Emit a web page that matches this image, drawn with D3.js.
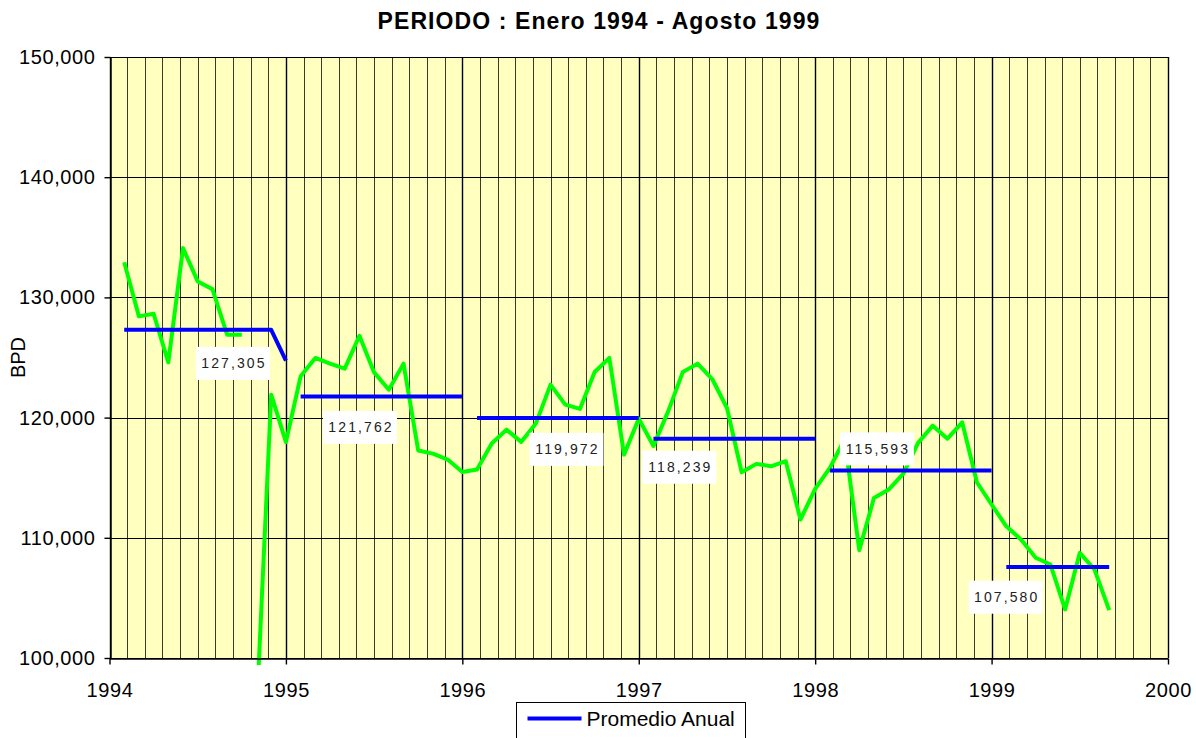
<!DOCTYPE html>
<html>
<head>
<meta charset="utf-8">
<script src="https://cdn.jsdelivr.net/npm/d3@7"></script>
<style>
  body { margin: 0; background: #fff; }
  text { font-family: "Liberation Sans", Arial, sans-serif; }
</style>
</head>
<body>
<svg id="chart"></svg>
<script>
// ---- datos ----
const years = [1994, 1995, 1996, 1997, 1998, 1999, 2000];
const yTicks = [100000, 110000, 120000, 130000, 140000, 150000];

// produccion mensual (BPD), enero 1994 - agosto 1999
const bpd1994 = [132930, 128420, 128640, 124590, 134100, 131330, 130690, 126900, 126900, 95400, 121910, 117960];
const bpd1995 = [123430, 124960, 124490, 124070, 126810, 123760, 122320, 124490, 117260, 117000, 116510, 115480];
const bpd1996 = [115680, 117840, 119000, 117980, 119500, 122740, 121080, 120720, 123800, 124960, 116920, 119910];
const bpd1997 = [117640, 120520, 123800, 124490, 123210, 120800, 115450, 116150, 115950, 116370, 111520, 114070];
const bpd1998 = [115820, 118200, 108970, 113320, 114010, 115340, 117900, 119330, 118250, 119610, 114620, 112770];
const bpd1999 = [110960, 109860, 108340, 107780, 104040, 108750, 107360, 103980];
const lineBreakAt = 9; // the monthly line has a gap between Sep and Oct 1994

const annualAvg = [127305, 121762, 119972, 118239, 115593, 107580];
const avgMonths = [12, 12, 12, 12, 12, 8];
const avgDec1994 = 124740; // last point of the 1994 average drops
// label centres, in data units [year, BPD]
const avgLabelAt = [[1994.70, 124510], [1995.42, 119190], [1996.59, 117360],
                    [1997.23, 115870], [1998.35, 117400], [1999.08, 105060]];

// ---- layout ----
const width = 1196, height = 738;
const svg = d3.select("#chart").attr("width", width).attr("height", height);

const x = d3.scaleLinear().domain([1994, 2000]).range([109.5, 1168]);
const y = d3.scaleLinear().domain([100000, 150000]).range([658, 57]);
const crisp = v => Math.round(v) + 0.5;

const monthly = [].concat(bpd1994, bpd1995, bpd1996, bpd1997, bpd1998, bpd1999)
    .map((v, i) => ({ t: 1994 + (i + 1) / 12, v: v }));

// plot background
svg.append("rect")
    .attr("x", x(1994)).attr("y", y(150000))
    .attr("width", x(2000) - x(1994)).attr("height", y(100000) - y(150000))
    .attr("fill", "#FFFFC0");

// minor vertical grid (every 0.1 year)
const minor = d3.range(0, 61).filter(k => k % 10 !== 0).map(k => 1994 + k / 10);
svg.append("g").selectAll("line").data(minor).enter().append("line")
    .attr("x1", d => crisp(x(d))).attr("x2", d => crisp(x(d)))
    .attr("y1", y(150000)).attr("y2", y(100000))
    .attr("stroke", "#3a3a2a").attr("stroke-width", 1);

// horizontal grid
svg.append("g").selectAll("line").data(yTicks).enter().append("line")
    .attr("x1", x(1994)).attr("x2", x(2000))
    .attr("y1", d => crisp(y(d))).attr("y2", d => crisp(y(d)))
    .attr("stroke", "#000").attr("stroke-width", 1);

// year grid
svg.append("g").selectAll("line").data(years).enter().append("line")
    .attr("x1", d => crisp(x(d))).attr("x2", d => crisp(x(d)))
    .attr("y1", y(150000)).attr("y2", y(100000))
    .attr("stroke", "#000").attr("stroke-width", 1.4);

// series
svg.append("defs").append("clipPath").attr("id", "clip")
    .append("rect")
    .attr("x", x(1994)).attr("y", y(150000) - 2)
    .attr("width", x(2000) - x(1994)).attr("height", y(100000) - y(150000) + 9);

const line = d3.line().x(d => x(d.t)).y(d => y(d.v));
const series = svg.append("g").attr("clip-path", "url(#clip)");

[monthly.slice(0, lineBreakAt), monthly.slice(lineBreakAt)].forEach(seg => {
    series.append("path")
        .datum(seg)
        .attr("d", line)
        .attr("fill", "none")
        .attr("stroke", "#00FF00")
        .attr("stroke-width", 4)
        .attr("stroke-linejoin", "round");
});

annualAvg.forEach((avg, i) => {
    const pts = d3.range(avgMonths[i]).map(m => ({
        t: years[i] + (m + 1) / 12,
        v: (i === 0 && m === 11) ? avgDec1994 : avg
    }));
    series.append("path")
        .datum(pts)
        .attr("d", line)
        .attr("fill", "none")
        .attr("stroke", "#0000FF")
        .attr("stroke-width", 4)
        .attr("stroke-linejoin", "round");
});

// data labels
const labels = svg.append("g").selectAll("g").data(annualAvg).enter().append("g")
    .attr("transform", (d, i) => `translate(${x(avgLabelAt[i][0])},${y(avgLabelAt[i][1])})`);
labels.append("rect")
    .attr("x", -37).attr("y", -16.5).attr("width", 74).attr("height", 33)
    .attr("fill", "#fff");
labels.append("text")
    .attr("text-anchor", "middle")
    .attr("dx", "1px")
    .attr("dy", "0.36em")
    .style("font-size", "14px")
    .style("letter-spacing", "2.1px")
    .style("fill", "#222")
    .text(d => d3.format(",")(d));

// axes
const yAxis = svg.append("g")
    .attr("transform", `translate(${crisp(x(1994))},0)`)
    .call(d3.axisLeft(y).tickValues(yTicks).tickFormat(d3.format(","))
        .tickSize(6).tickSizeOuter(0).tickPadding(9));
const xAxis = svg.append("g")
    .attr("transform", `translate(0,${crisp(y(100000))})`)
    .call(d3.axisBottom(x).tickValues(years).tickFormat(d3.format("d"))
        .tickSize(6).tickSizeOuter(0).tickPadding(18));

[yAxis, xAxis].forEach(a => {
    a.select(".domain").attr("stroke", "#000").attr("stroke-width", 1.4);
    a.selectAll(".tick line").attr("stroke", "#000").attr("stroke-width", 1.4);
    a.selectAll(".tick text")
        .style("font-family", "'Liberation Sans', Arial, sans-serif")
        .style("font-size", "20px")
        .style("letter-spacing", "0.6px")
        .style("fill", "#000");
});

// axis title
svg.append("text")
    .attr("transform", `translate(25,${(y(150000) + y(100000)) / 2}) rotate(-90)`)
    .attr("text-anchor", "middle")
    .style("font-size", "20px")
    .text("BPD");

// chart title
svg.append("text")
    .attr("x", 599).attr("y", 29)
    .attr("text-anchor", "middle")
    .style("font-size", "23px")
    .style("font-weight", "bold")
    .style("letter-spacing", "1.1px")
    .text("PERIODO : Enero 1994 - Agosto 1999");

// legend
const legend = svg.append("g").attr("transform", "translate(516.5,702.5)");
legend.append("rect")
    .attr("width", 229).attr("height", 40)
    .attr("fill", "#fff").attr("stroke", "#000").attr("stroke-width", 1);
legend.append("line")
    .attr("x1", 11).attr("x2", 65).attr("y1", 16).attr("y2", 16)
    .attr("stroke", "#0000FF").attr("stroke-width", 4);
legend.append("text")
    .attr("x", 70).attr("y", 16).attr("dy", "0.36em")
    .style("font-size", "21px")
    .text("Promedio Anual");
</script>
</body>
</html>
